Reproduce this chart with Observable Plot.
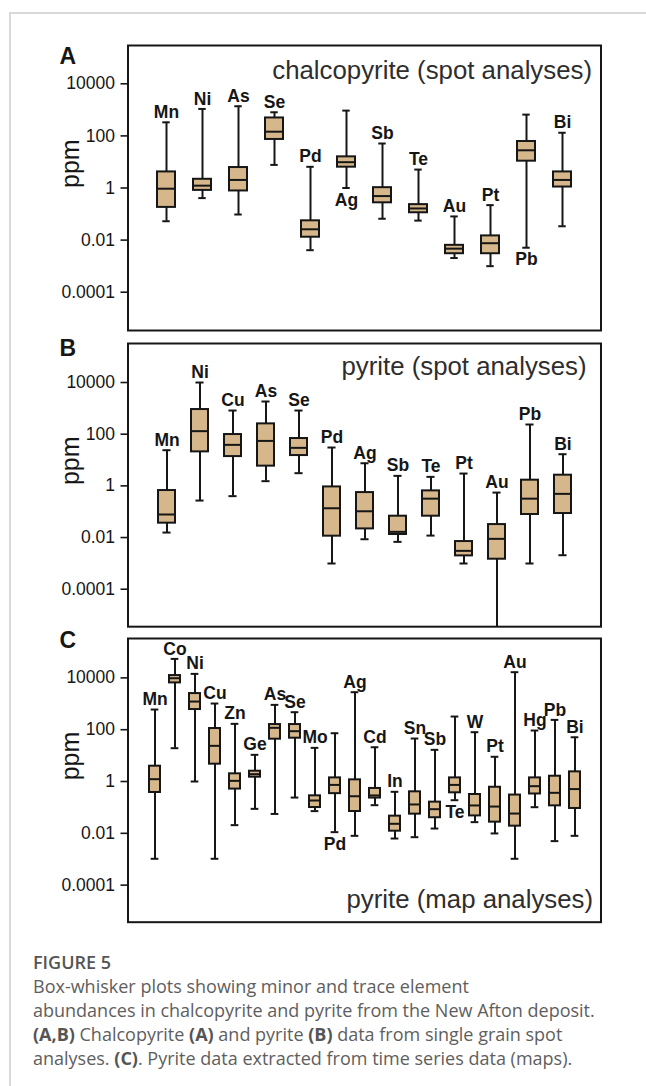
<!DOCTYPE html>
<html>
<head>
<meta charset="utf-8">
<script src="https://cdn.jsdelivr.net/npm/d3@7"></script>
<script src="https://cdn.jsdelivr.net/npm/@observablehq/plot@0.6"></script>
<style>
  body { margin: 0; background: #fff; }
  #page { position: relative; width: 646px; height: 1086px; overflow: hidden; background: #fff; }
  .vline { position: absolute; left: 9px; top: 12px; width: 1.5px; height: 1074px; background: #d9d9d9; }
  .hline { position: absolute; left: 9px; top: 12px; width: 637px; height: 1.5px; background: #d9d9d9; }
  .panel { position: absolute; left: 0; }
  .panel svg, .panel svg text { font-family: 'Liberation Sans', Arial, sans-serif !important; }
  #caption { position: absolute; left: 33px; top: 950px; font-family: "Open Sans", sans-serif; font-size: 18px; line-height: 24px; color: #5e5e5e; white-space: nowrap; }
  #caption .fig { font-weight: 600; color: #555; }
  #caption b { font-weight: 700; color: #555; }
</style>
</head>
<body>
<div id="page">
  <div class="vline"></div>
  <div class="hline"></div>
  <div id="pA" class="panel"></div>
  <div id="pB" class="panel"></div>
  <div id="pC" class="panel"></div>
  <div id="caption">
    <div class="fig">FIGURE 5</div>
    <div>Box-whisker plots showing minor and trace element</div>
    <div>abundances in chalcopyrite and pyrite from the New Afton deposit.</div>
    <div><b>(A,B)</b> Chalcopyrite <b>(A)</b> and pyrite <b>(B)</b> data from single grain spot</div>
    <div>analyses. <b>(C)</b>. Pyrite data extracted from time series data (maps).</div>
  </div>
</div>
<script>
// ---------- data (ppm) ----------
const yTickValues = [10000, 100, 1, 0.01, 0.0001];
const yTickLabels = ["10000", "100", "1", "0.01", "0.0001"];

// Panel A: chalcopyrite (spot analyses)
const elementsA = ["Mn","Ni","As","Se","Pd","Ag","Sb","Te","Au","Pt","Pb","Bi"];
const maxA    = [332, 1084, 1374, 807, 6.5, 935, 51, 5.1, 0.081, 0.22, 656, 132];
const q3A     = [4.14, 2.16, 6.1, 488, 0.055, 15.7, 1.03, 0.23, 0.0063, 0.0145, 61, 4.14];
const medianA = [0.94, 1.23, 2.04, 145, 0.026, 9.8, 0.49, 0.164, 0.0047, 0.0076, 28, 2.04];
const q1A     = [0.18, 0.81, 0.77, 73, 0.0129, 6.3, 0.27, 0.112, 0.003, 0.003, 10.7, 1.09];
const minA    = [0.053, 0.41, 0.096, 7.7, 0.0041, 1.0, 0.066, 0.056, 0.00205, 0.001, 0.0051, 0.034];
const labelsBelowA = ["Ag","Pb"];

// Panel B: pyrite (spot analyses)
const elementsB = ["Mn","Ni","Cu","As","Se","Pd","Ag","Sb","Te","Pt","Au","Pb","Bi"];
const maxB    = [24, 10000, 824, 1841, 824, 30.5, 7.5, 2.44, 2.23, 3.0, 0.55, 237, 16.8];
const q3B     = [0.66, 900, 97, 251, 68, 0.91, 0.55, 0.067, 0.64, 0.007, 0.0318, 1.66, 2.59];
const medianB = [0.078, 131, 38.6, 55, 29.6, 0.136, 0.104, 0.0166, 0.32, 0.00305, 0.0089, 0.32, 0.49];
const q1B     = [0.036, 20.7, 13.6, 5.8, 14.9, 0.0113, 0.0216, 0.0131, 0.067, 0.00195, 0.00145, 0.078, 0.085];
const minB    = [0.0156, 0.27, 0.4, 1.52, 3.1, 0.00099, 0.0086, 0.0068, 0.0119, 0.00099, 0.000001, 0.00099, 0.00207];
const labelsBelowB = [];

// Panel C: pyrite (map analyses)
const elementsC = ["Mn","Co","Ni","Cu","Zn","Ge","As","Se","Mo","Pd","Ag","Cd","In","Sn","Sb","Te","W","Pt","Au","Hg","Pb","Bi"];
const maxC    = [600, 54000, 14260, 1023, 168, 10.7, 908, 473, 19.9, 73, 2800, 21, 0.4, 45.6, 16.7, 322, 80, 9.0, 16560, 93, 239, 51];
const q3C     = [3.9, 12300, 2480, 111, 1.98, 2.5, 158, 158, 0.28, 1.38, 1.16, 0.54, 0.046, 0.4, 0.16, 1.38, 0.315, 0.6, 0.30, 1.38, 1.6, 2.36];
const medianC = [1.23, 9700, 1220, 23.8, 1.06, 1.92, 118, 87.5, 0.185, 0.74, 0.27, 0.29, 0.0233, 0.13, 0.0855, 0.74, 0.119, 0.108, 0.058, 0.66, 0.366, 0.51];
const q1C     = [0.377, 6400, 600, 4.67, 0.51, 1.47, 43, 47, 0.099, 0.34, 0.0695, 0.23, 0.0121, 0.055, 0.04, 0.366, 0.047, 0.027, 0.0189, 0.33, 0.115, 0.091];
const minC    = [0.00104, 19.3, 1.0, 0.00104, 0.0207, 0.088, 0.056, 0.24, 0.072, 0.0111, 0.008, 0.122, 0.0063, 0.0071, 0.0153, 0.19, 0.027, 0.0099, 0.00104, 0.102, 0.005, 0.008];
const labelsBelowC = ["Pd","Te"];

// ---------- drawing ----------
const INK = "#161616";
const BOX_FILL = "#d5b78b";

function panel(cfg) {
  const {elements, min, q1, med, q3, max, below, title, titleAnchor, titleDx, titleDy,
         letter, letterDy, domainExp, frameHeight, paddingInner} = cfg;
  const rows = elements.map((el, i) => ({el, min: min[i], q1: q1[i], med: med[i], q3: q3[i], max: max[i], below: below.includes(el)}));
  const width = 646, mL = 127.5, mR = 45.5, mT = 14, mB = 10;
  const n = elements.length;
  const step = (width - mL - mR) / (n + 1);
  const bw = step * (1 - paddingInner);
  const capInset = Math.max(0, (bw - 8) / 2);
  const lo = 10 ** domainExp[0], hi = 10 ** domainExp[1];
  const fmt = d => yTickLabels[yTickValues.indexOf(d)];
  const svg = Plot.plot({
    width, height: frameHeight + mT + mB,
    marginLeft: mL, marginRight: mR, marginTop: mT, marginBottom: mB,
    style: {background: "transparent", overflow: "visible", color: INK},
    x: {type: "band", domain: elements, paddingInner, paddingOuter: 0.5 + paddingInner / 2, axis: null},
    y: {type: "log", domain: [lo, hi], axis: null},
    marks: [
      Plot.axisY({ticks: yTickValues, tickFormat: fmt, tickSize: 7, tickPadding: 6, fontSize: 17.5, strokeWidth: 1.6, stroke: INK, fill: INK, label: null}),
      Plot.text(["ppm"], {frameAnchor: "left", dx: 70 - mL, rotate: -90, fontSize: 25, fill: INK}),
      Plot.text([letter], {frameAnchor: "top-left", dx: 59 - mL, dy: letterDy, textAnchor: "start", lineAnchor: "middle", fontSize: 23, fontWeight: "bold", fill: INK}),
      Plot.text([title], {frameAnchor: titleAnchor, dx: titleDx, dy: titleDy, textAnchor: "end", lineAnchor: "middle", fontSize: 25.8, fill: "#2e2e2e"}),
      Plot.ruleX(rows, {x: "el", y1: d => Math.max(d.min, lo), y2: "max", stroke: INK, strokeWidth: 2}),
      Plot.tickY(rows, {x: "el", y: "max", insetLeft: capInset, insetRight: capInset, stroke: INK, strokeWidth: 2}),
      Plot.tickY(rows.filter(d => d.min >= lo), {x: "el", y: "min", insetLeft: capInset, insetRight: capInset, stroke: INK, strokeWidth: 2}),
      Plot.barY(rows, {x: "el", y1: "q1", y2: "q3", fill: BOX_FILL, stroke: INK, strokeWidth: 2}),
      Plot.tickY(rows, {x: "el", y: "med", stroke: INK, strokeWidth: 2}),
      Plot.text(rows.filter(d => !d.below), {x: "el", y: "max", text: "el", dy: -10, lineAnchor: "middle", fontSize: 17.5, fontWeight: "bold", fill: INK}),
      Plot.text(rows.filter(d => d.below), {x: "el", y: "min", text: "el", dy: 12, lineAnchor: "middle", fontSize: 17.5, fontWeight: "bold", fill: INK}),
      Plot.frame({stroke: INK, strokeWidth: 2})
    ]
  });
  return {svg, mT};
}

function place(id, frameTop, cfg) {
  const {svg, mT} = panel(cfg);
  const el = document.getElementById(id);
  el.style.top = (frameTop - mT) + "px";
  el.appendChild(svg);
}

place("pA", 45, {
  elements: elementsA, min: minA, q1: q1A, med: medianA, q3: q3A, max: maxA, below: labelsBelowA,
  title: "chalcopyrite (spot analyses)", titleAnchor: "top-right", titleDx: -9, titleDy: 25,
  letter: "A", letterDy: 10.7, domainExp: [-5.47, 5.47], frameHeight: 285, paddingInner: 0.49
});
place("pB", 343.3, {
  elements: elementsB, min: minB, q1: q1B, med: medianB, q3: q3B, max: maxB, below: labelsBelowB,
  title: "pyrite (spot analyses)", titleAnchor: "top-right", titleDx: -14.5, titleDy: 23.4,
  letter: "B", letterDy: 5.5, domainExp: [-5.45, 5.51], frameHeight: 283.2, paddingInner: 0.5
});
place("pC", 638.3, {
  elements: elementsC, min: minC, q1: q1C, med: medianC, q3: q3C, max: maxC, below: labelsBelowC,
  title: "pyrite (map analyses)", titleAnchor: "bottom-right", titleDx: -8, titleDy: -22,
  letter: "C", letterDy: 1.7, domainExp: [-5.43, 5.52], frameHeight: 283.7, paddingInner: 0.45
});
</script>
</body>
</html>
